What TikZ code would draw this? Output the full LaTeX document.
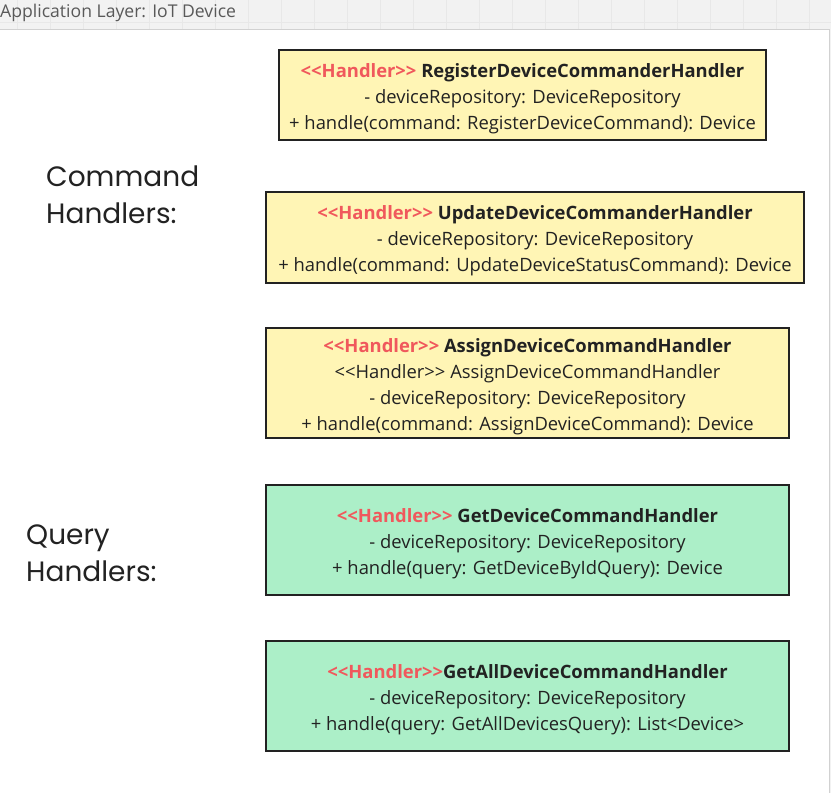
\documentclass[tikz,border=0pt]{standalone}
\usepackage{fontspec}
\setmainfont{Open Sans}[Ligatures = NoCommon]
\newfontfamily\labelfont{Poppins}
\newfontfamily\titlefont{Open Sans}

\definecolor{cmdfill}{HTML}{FFF5B5}
\definecolor{qryfill}{HTML}{ACEFC8}
\definecolor{stereored}{HTML}{F0585C}
\definecolor{boxline}{HTML}{222222}
\definecolor{inktext}{HTML}{222222}

\newcommand{\lt}{{<}\kern0pt{<}}
\newcommand{\gt}{{>}\kern0pt{>}}
\newcommand{\stereo}{\rule{0pt}{20.5pt}\textcolor{stereored}{\textbf{\lt Handler\gt}}}

\tikzset{
	handler/.style = {draw = boxline, line width = 2.5pt, text = inktext,
		align = center, inner sep = 0pt, font = \fontsize{18.4}{26}\selectfont},
	cmdbox/.style = {handler, fill = cmdfill},
	qrybox/.style = {handler, fill = qryfill},
	grouplabel/.style = {anchor = north west, inner sep = 0pt, align = left,
		text = inktext, font = \labelfont\fontsize{28}{37}\selectfont}
}

\begin{document}
\begin{tikzpicture}[x = 1pt, y = -1pt]

	% Canvas
	
	\useasboundingbox (0, 0) rectangle (831, 793);
	\fill [black!5] (0, 0) rectangle (831, 793);
	\foreach \x in {17, 50, 83, 116, 149, 182, 215, 248, 281, 314, 347, 380, 413, 446, 479, 512, 545, 578, 611, 644, 677, 710, 743, 776, 809}
		\draw [black!9, line width = 0.6pt] (\x, 0) -- (\x, 29);
	\draw [black!9, line width = 0.6pt] (0, 22) -- (831, 22);
	\fill [white] (0, 29) rectangle (829, 793);
	\draw [black!18, line width = 0.8pt] (0, 29) -- (829, 29) -- (829, 793);
	
	% Title
	
	\node [anchor = base west, inner sep = 0pt, text = black!65,
		font = \titlefont\fontsize{17.6}{20}\selectfont] (title) at (0, 17) {Application Layer: IoT Device};
	
	% Group labels
	
	\node [grouplabel] (cmdlabel) at (46, 166) {Command\\Handlers:};
	\node [grouplabel] (qrylabel) at (26, 525) {Query\\Handlers:};
	
	% Command handlers
	
	\node [cmdbox, minimum width = 487, minimum height = 90] (register) at (522.5, 95)
		{\stereo{} \textbf{RegisterDeviceCommanderHandler}\\
		- deviceRepository: DeviceRepository\\
		+ handle(command: RegisterDeviceCommand): Device};
	
	\node [cmdbox, minimum width = 538, minimum height = 91] (update) at (535, 237.5)
		{\stereo{} \textbf{UpdateDeviceCommanderHandler}\\
		- deviceRepository: DeviceRepository\\
		+ handle(command: UpdateDeviceStatusCommand): Device};
	
	\node [cmdbox, minimum width = 523, minimum height = 110] (assign) at (527.5, 383)
		{\stereo{} \textbf{AssignDeviceCommandHandler}\\
		\lt Handler\gt{} AssignDeviceCommandHandler\\
		- deviceRepository: DeviceRepository\\
		+ handle(command: AssignDeviceCommand): Device};
	
	% Query handlers
	
	\node [qrybox, minimum width = 523, minimum height = 110] (getone) at (527.5, 540)
		{\stereo{} \textbf{GetDeviceCommandHandler}\\
		- deviceRepository: DeviceRepository\\
		+ handle(query: GetDeviceByIdQuery): Device};
	
	\node [qrybox, minimum width = 523, minimum height = 110] (getall) at (527.5, 696)
		{\stereo\textbf{GetAllDeviceCommandHandler}\\
		- deviceRepository: DeviceRepository\\
		+ handle(query: GetAllDevicesQuery): List{<}Device{>}};
		
\end{tikzpicture}
\end{document}
